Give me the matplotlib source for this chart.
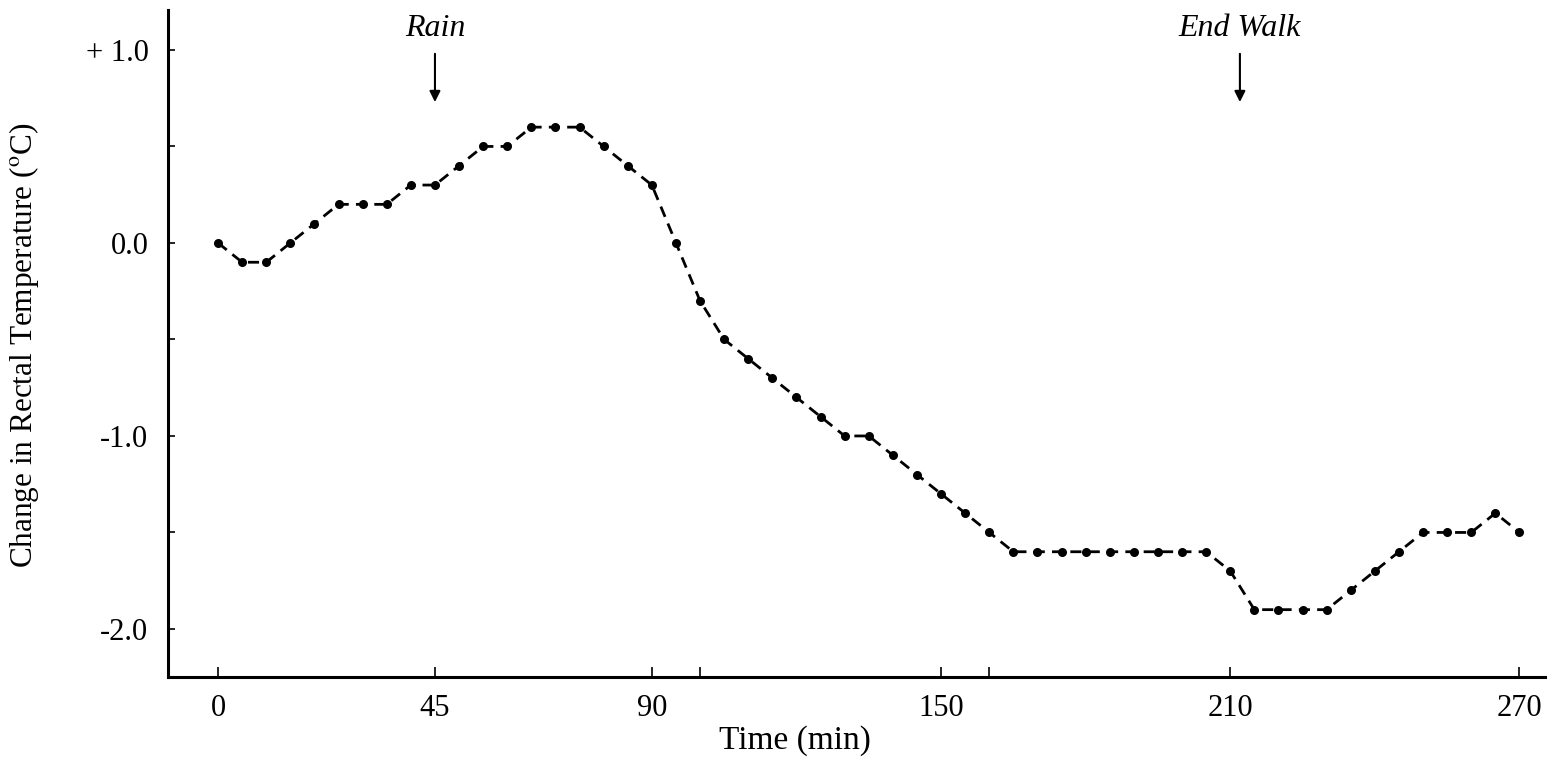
import matplotlib
matplotlib.use('Agg')
from matplotlib import pyplot as plt

# time after start of walk (min) and change in rectal temperature (deg C)
time_min = [0, 5, 10, 15, 20, 25, 30, 35, 40, 45, 50, 55, 60, 65, 70, 75, 80,
            85, 90, 95, 100, 105, 110, 115, 120, 125, 130, 135, 140, 145, 150,
            155, 160, 165, 170, 175, 180, 185, 190, 195, 200, 205, 210, 215,
            220, 225, 230, 235, 240, 245, 250, 255, 260, 265, 270]
delta_temp = [0.0, -0.1, -0.1, 0.0, 0.1, 0.2, 0.2, 0.2, 0.3, 0.3, 0.4, 0.5,
              0.5, 0.6, 0.6, 0.6, 0.5, 0.4, 0.3, 0.0, -0.3, -0.5, -0.6, -0.7,
              -0.8, -0.9, -1.0, -1.0, -1.1, -1.2, -1.3, -1.4, -1.5, -1.6,
              -1.6, -1.6, -1.6, -1.6, -1.6, -1.6, -1.6, -1.6, -1.7, -1.9,
              -1.9, -1.9, -1.9, -1.8, -1.7, -1.6, -1.5, -1.5, -1.5, -1.4, -1.5]

xticks_major = [0, 45, 90, 150, 210, 270]
xticks_minor = [100, 160]
yticks_major = [1.0, 0.0, -1.0, -2.0]
ytick_labels = ['+ 1.0', '0.0', '-1.0', '-2.0']
yticks_minor = [0.5, -0.5, -1.5]

events = [('Rain', 45), ('End Walk', 212)]

plt.rcParams['font.family'] = ['Liberation Serif', 'DejaVu Serif']
plt.rcParams['mathtext.fontset'] = 'stix'
plt.rcParams['font.size'] = 22

fig = plt.figure(figsize=(15.52, 7.63), dpi=100)
ax = fig.add_axes([0.1082, 0.1127, 0.8873, 0.8742])

ax.plot(time_min, delta_temp, color='black', lw=2.0,
        linestyle=(0, (4, 2.6)), marker='o', markersize=6.5,
        markeredgewidth=0)

ax.set_xlim(-10.4, 275.3)
ax.set_ylim(-2.249, 1.207)

ax.set_xticks(xticks_major)
ax.set_xticks(xticks_minor, minor=True)
ax.set_yticks(yticks_major)
ax.set_yticklabels(ytick_labels)
ax.set_yticks(yticks_minor, minor=True)

ax.tick_params(axis='both', which='both', direction='in', width=1.2,
               colors='black', labelsize=22)
ax.tick_params(axis='x', which='both', length=7, pad=12)
ax.tick_params(axis='y', which='both', length=5, pad=14)

for side in ('top', 'right'):
    ax.spines[side].set_visible(False)
for side in ('left', 'bottom'):
    ax.spines[side].set_linewidth(2.2)

ax.set_xlabel('Time (min)', fontsize=24)
ax.xaxis.set_label_coords(0.455, -0.072)
ax.set_ylabel(r'Change in Rectal Temperature ($^{\mathrm{o}}$C)',
              fontsize=22.5)
ax.yaxis.set_label_coords(-0.092, 0.497)

# event markers above the curve
for label, t in events:
    ax.annotate('', xy=(t, 0.73), xytext=(t, 0.98),
                arrowprops=dict(arrowstyle='-|>', color='black', lw=1.5,
                                mutation_scale=16, shrinkA=0, shrinkB=0))
    ax.text(t, 1.11, label, ha='center', va='center', style='italic',
            fontsize=23)

fig.savefig('out.png', dpi=100)
